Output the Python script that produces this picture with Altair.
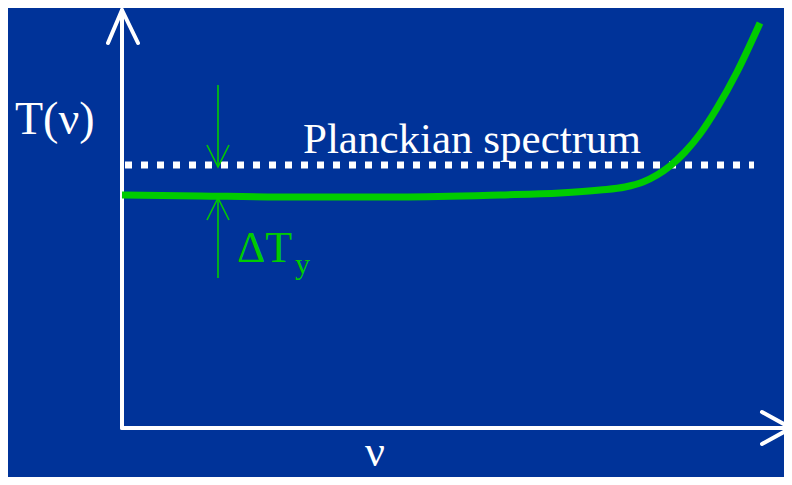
import altair as alt
import pandas as pd

# coordinate units: nu to the right of the T axis, T above the nu axis
# axis polylines (arrows)
axis_group = ["yshaft", "yshaft", "yhead", "yhead", "yhead",
              "xshaft", "xshaft", "xhead", "xhead", "xhead"]
axis_nu = [0, 0, -14, 0, 16, 0, 668, 640, 669, 640]
axis_T = [0, 418, 385, 418, 385, 0, 0, 16, 0, -16]

# Planckian (dotted) level
planck_nu = [3, 632]
planck_T = [263, 263]

# distorted spectrum (green)
spec_nu = [0, 78, 178, 278, 378, 438, 478, 503, 521, 535, 548, 563, 578, 595, 615, 638]
spec_T = [233, 232, 231, 231, 233, 235, 238, 241, 246, 253, 262, 276, 294, 320, 356, 405]

# Delta T_y indicator arrows
ind_group = ["ushaft", "ushaft", "uhead", "uhead", "uhead",
             "lshaft", "lshaft", "lhead", "lhead", "lhead"]
ind_nu = [96, 96, 85, 96, 107, 96, 96, 85, 96, 107]
ind_T = [343, 261, 283, 261, 283, 150, 230, 208, 230, 208]

# labels
white_text = ["T(ν)", "Planckian spectrum", "ν"]
white_nu = [-107, 181, 243]
white_T = [294, 275, -38]
white_size = [46, 43, 44]
green_text = ["ΔT", "y"]
green_nu = [115, 173]
green_T = [166, 154]
green_size = [44, 30]

BG = "#003399"
GREEN = "#00cc00"
FONT = "Liberation Serif"

xs = alt.Scale(domain=[-114, 662], nice=False, zero=False)
ys = alt.Scale(domain=[-49, 420], nice=False, zero=False)
X = lambda: alt.X("nu:Q", scale=xs, axis=None)
Y = lambda: alt.Y("T:Q", scale=ys, axis=None)

axes_df = pd.DataFrame({"g": axis_group, "nu": axis_nu, "T": axis_T,
                        "o": list(range(len(axis_nu)))})
planck_df = pd.DataFrame({"nu": planck_nu, "T": planck_T})
spec_df = pd.DataFrame({"nu": spec_nu, "T": spec_T})
ind_df = pd.DataFrame({"g": ind_group, "nu": ind_nu, "T": ind_T,
                       "o": list(range(len(ind_nu)))})
wt_df = pd.DataFrame({"t": white_text, "nu": white_nu, "T": white_T, "s": white_size})
gt_df = pd.DataFrame({"t": green_text, "nu": green_nu, "T": green_T, "s": green_size})

axes = alt.Chart(axes_df).mark_line(color="white", strokeWidth=4, strokeCap="round",
                                    strokeJoin="round").encode(
    x=X(), y=Y(), detail="g:N", order="o:Q")

planck = alt.Chart(planck_df).mark_line(color="white", strokeWidth=7,
                                        strokeDash=[7, 9], strokeCap="butt").encode(
    x=X(), y=Y())

ind = alt.Chart(ind_df).mark_line(color=GREEN, strokeWidth=1.6).encode(
    x=X(), y=Y(), detail="g:N", order="o:Q")

spec = alt.Chart(spec_df).mark_line(color=GREEN, strokeWidth=7,
                                    interpolate="monotone").encode(
    x=X(), y=Y())

wtext = alt.Chart(wt_df).mark_text(color="white", font=FONT, align="left",
                                   baseline="alphabetic").encode(
    x=X(), y=Y(), text="t:N", size=alt.Size("s:Q", scale=None, legend=None))

gtext = alt.Chart(gt_df).mark_text(color=GREEN, font=FONT, align="left",
                                   baseline="alphabetic").encode(
    x=X(), y=Y(), text="t:N", size=alt.Size("s:Q", scale=None, legend=None))

chart = alt.layer(planck, axes, ind, spec, wtext, gtext).properties(
    width=776, height=469, background=BG, padding=0,
    autosize=alt.AutoSizeParams(type="none"),
).configure_view(strokeWidth=0)

chart.save("out.html", embed_options={"renderer": "svg", "actions": False})
